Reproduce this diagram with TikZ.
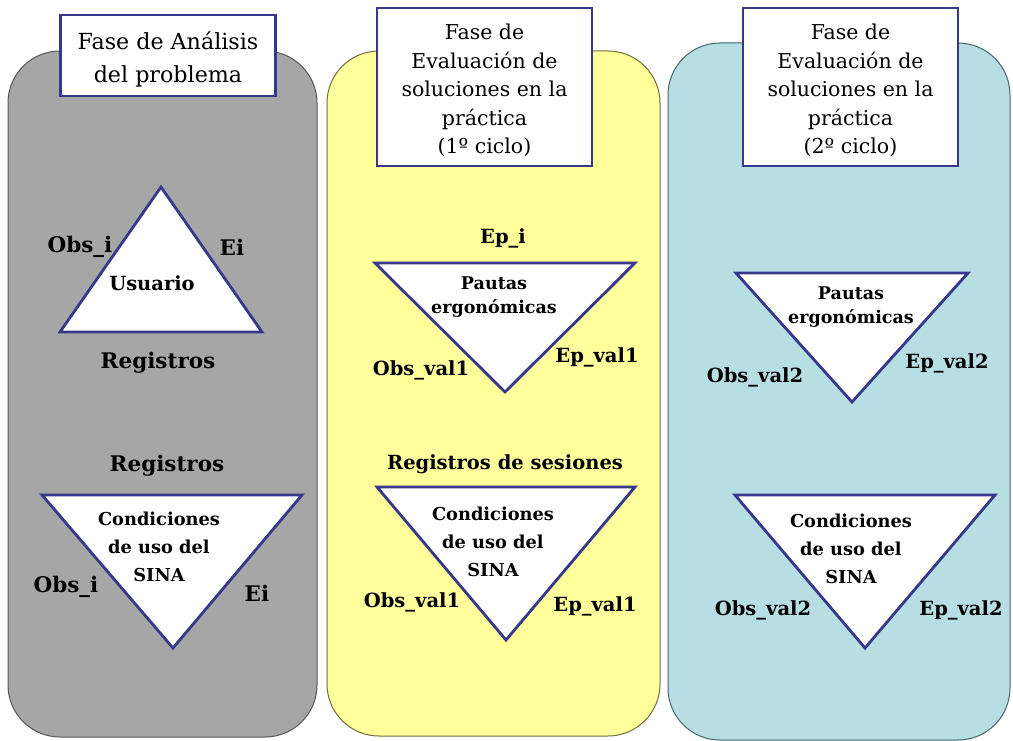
\documentclass[tikz,border=0pt]{standalone}
\usepackage{fontspec}
\setmainfont{DejaVu Serif}
\definecolor{navyline}{RGB}{55,55,140}
\definecolor{grayfill}{RGB}{166,166,166}
\definecolor{grayline}{RGB}{85,85,85}
\definecolor{yelfill}{RGB}{255,255,156}
\definecolor{yelline}{RGB}{110,110,60}
\definecolor{bluefill}{RGB}{183,222,227}
\definecolor{blueline}{RGB}{70,100,108}
\begin{document}
\begin{tikzpicture}[x=1pt,y=-1pt,
  panel/.style={rounded corners=52pt, line width=1pt},
  tri/.style={fill=white, draw=navyline, line width=2.8pt, line join=miter},
  lbl/.style={font=\fontsize{19.5}{28}\selectfont\bfseries, inner sep=0pt, align=center},
  lblL/.style={lbl, font=\fontsize{21.5}{28}\selectfont\bfseries},
  lblC/.style={lbl, font=\fontsize{17.8}{28}\selectfont\bfseries},
  lblP/.style={lbl, font=\fontsize{17.5}{24}\selectfont\bfseries},
  ttl/.style={draw=navyline, line width=2.5pt, fill=white, inner sep=0pt,
              minimum width=215pt},
  ttlA/.style={ttl, minimum height=81pt},
  ttlB/.style={ttl, minimum height=158pt},
  ttltxtA/.style={align=center, inner sep=0pt, font=\fontsize{22.2}{33}\selectfont},
  ttltxtB/.style={align=center, inner sep=0pt, font=\fontsize{20.5}{28.5}\selectfont}]
\useasboundingbox (0,0) rectangle (1013,741);
\fill[white] (0,0) rectangle (1013,741);

% panels
\filldraw[panel, fill=grayfill, draw=grayline] (8,51) rectangle (317,737);
\filldraw[panel, fill=yelfill, draw=yelline] (327,51) rectangle (660,736);
\filldraw[panel, fill=bluefill, draw=blueline] (668,43) rectangle (1010,740);

% titles
\node[ttlA] (t1) at (168,55.5) {};
\node[ttltxtA] (t1txt) at (168,59) {Fase de Análisis\\del problema};
\node[ttlB] (t2) at (484.5,87) {};
\node[ttltxtB] (t2txt) at (484.5,90.5) {Fase de\\Evaluación de\\soluciones en la\\práctica\\(1º ciclo)};
\node[ttlB] (t3) at (850.5,87) {};
\node[ttltxtB] (t3txt) at (850.5,90.5) {Fase de\\Evaluación de\\soluciones en la\\práctica\\(2º ciclo)};

% ---------- panel 1 ----------
\coordinate (a1) at (161,187);
\coordinate (a2) at (60,332);
\coordinate (a3) at (262,332);
\draw[tri] (a1) -- (a2) -- (a3) -- cycle;
\node[lbl] (usuario) at (152,283) {Usuario};
\node[lblL] (obsi1) at (80,247) {Obs\_i};
\node[lblL] (ei1) at (232,247) {Ei};
\node[lblL] (reg1) at (158,363) {Registros};

\coordinate (b1) at (42,495);
\coordinate (b2) at (302,495);
\coordinate (b3) at (173,648);
\draw[tri] (b1) -- (b2) -- (b3) -- cycle;
\node[lblL] (reg2) at (167,466) {Registros};
\node[lblC] (cond1) at (159,547) {Condiciones\\de uso del\\SINA};
\node[lblL] (obsi2) at (66,587) {Obs\_i};
\node[lblL] (ei2) at (257,593) {Ei};

% ---------- panel 2 ----------
\coordinate (c1) at (375,263);
\coordinate (c2) at (635,263);
\coordinate (c3) at (505,392);
\draw[tri] (c1) -- (c2) -- (c3) -- cycle;
\node[lbl] (epi) at (503,238) {Ep\_i};
\node[lblP] (paut1) at (494,297) {Pautas\\ergonómicas};
\node[lbl] (obsv1a) at (421,370) {Obs\_val1};
\node[lbl] (epv1a) at (597,357) {Ep\_val1};

\coordinate (d1) at (377,487);
\coordinate (d2) at (635,487);
\coordinate (d3) at (506,640);
\draw[tri] (d1) -- (d2) -- (d3) -- cycle;
\node[lbl] (regses) at (505,464) {Registros de sesiones};
\node[lblC] (cond2) at (493,542) {Condiciones\\de uso del\\SINA};
\node[lbl] (obsv1b) at (412,602) {Obs\_val1};
\node[lbl] (epv1b) at (595,606) {Ep\_val1};

% ---------- panel 3 ----------
\coordinate (e1) at (736,273);
\coordinate (e2) at (968,273);
\coordinate (e3) at (852,402);
\draw[tri] (e1) -- (e2) -- (e3) -- cycle;
\node[lblP] (paut2) at (851,307) {Pautas\\ergonómicas};
\node[lbl] (obsv2a) at (755,377) {Obs\_val2};
\node[lbl] (epv2a) at (947,363) {Ep\_val2};

\coordinate (f1) at (735,495);
\coordinate (f2) at (995,495);
\coordinate (f3) at (865,648);
\draw[tri] (f1) -- (f2) -- (f3) -- cycle;
\node[lblC] (cond3) at (851,549) {Condiciones\\de uso del\\SINA};
\node[lbl] (obsv2b) at (763,610) {Obs\_val2};
\node[lbl] (epv2b) at (961,610) {Ep\_val2};
\end{tikzpicture}
\end{document}
